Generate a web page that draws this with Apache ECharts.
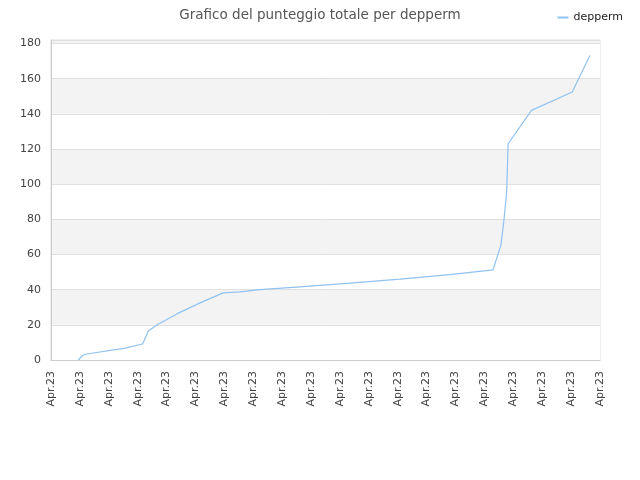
<!DOCTYPE html>
<html><head><meta charset="utf-8">
<script src="https://cdn.jsdelivr.net/npm/echarts@6/dist/echarts.min.js"></script>
<style>html,body{margin:0;padding:0;background:#fff}#c{width:640px;height:480px}</style>
</head><body><div id="c"></div>
<script>
const tickLabels = ['Apr.23','Apr.23','Apr.23','Apr.23','Apr.23','Apr.23','Apr.23','Apr.23','Apr.23','Apr.23','Apr.23','Apr.23','Apr.23','Apr.23','Apr.23','Apr.23','Apr.23','Apr.23','Apr.23','Apr.23'];
const xPos = [0.945, 1.10, 1.24, 2.56, 3.17, 3.37, 3.66, 4.39, 5.16, 5.96, 6.54, 7.23, 8.62, 10.35, 12.08, 13.81, 15.30, 15.57, 15.67, 15.77, 15.82, 16.63, 18.04, 18.65];
const scores = [0, 2.7, 3.4, 6.8, 9.1, 16.5, 19.9, 26.5, 32.5, 38.2, 38.8, 40, 41.6, 43.7, 46, 48.6, 51.3, 65.3, 78.6, 95.6, 123, 142, 152.4, 173.2];
const seriesName = 'depperm';
const titleText = 'Grafico del punteggio totale per depperm';

const chart = echarts.init(document.getElementById('c'));
chart.setOption({
  animation: false,
  backgroundColor: '#fff',
  title: { text: titleText, left: 'center', top: 3,
    textStyle: { fontFamily: 'DejaVu Sans', fontSize: 13.5, fontWeight: 'normal', color: '#555' } },
  legend: { right: 12, top: 7, itemWidth: 11, itemHeight: 2,
    textStyle: { fontFamily: 'DejaVu Sans', fontSize: 11, color: '#222' },
    data: [{ name: seriesName, icon: 'rect' }] },
  grid: { left: 51, right: 40, top: 40, bottom: 120, show: true, borderColor: '#ddd', borderWidth: 1, backgroundColor: 'transparent' },
  xAxis: { type: 'value', min: 0, max: tickLabels.length - 1, interval: 1,
    axisLine: { show: true, lineStyle: { color: '#ccc' } }, axisTick: { show: false },
    splitLine: { show: false },
    axisLabel: { rotate: 90, fontFamily: 'DejaVu Sans', fontSize: 11, color: '#444', margin: 11,
      formatter: (v) => tickLabels[Math.round(v)] || '' } },
  yAxis: { type: 'value', min: 0, max: 182, interval: 20,
    axisLine: { show: true, lineStyle: { color: '#ccc' } }, axisTick: { show: false },
    splitLine: { show: true, lineStyle: { color: '#e0e0e0' } },
    splitArea: { show: true, areaStyle: { color: ['#ffffff', '#f3f3f3'] } },
    axisLabel: { showMaxLabel: false, fontFamily: 'DejaVu Sans', fontSize: 11, color: '#444', margin: 10 } },
  series: [{ name: seriesName, type: 'line', showSymbol: false, symbol: 'none',
    lineStyle: { color: '#90c2f2', width: 1.2 }, itemStyle: { color: '#90c2f2' },
    data: xPos.map((x, i) => [x, scores[i]]) }]
});
</script></body></html>
